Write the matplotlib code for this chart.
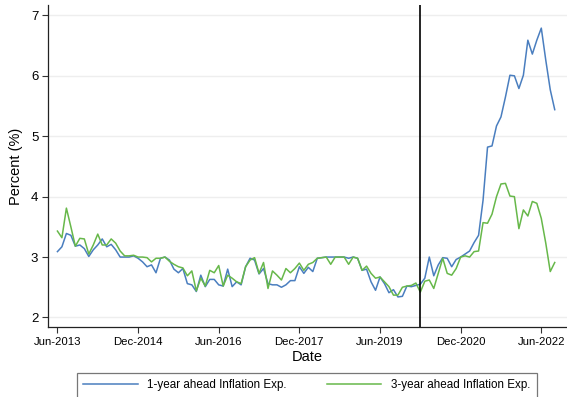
import matplotlib
matplotlib.use("Agg")
import matplotlib.pyplot as plt
import pandas as pd

plt.rcParams['font.family'] = ['Liberation Sans', 'DejaVu Sans']

# Monthly survey expectations, Jun-2013 onwards (percent)
one_year = [
    3.09, 3.17, 3.39, 3.36, 3.18, 3.20, 3.14, 3.01, 3.12, 3.20, 3.30, 3.17,
    3.21, 3.12, 3.00, 3.00, 3.00, 3.02, 2.98, 2.92, 2.84, 2.87, 2.74, 2.98,
    3.00, 2.95, 2.80, 2.74, 2.81, 2.56, 2.54, 2.43, 2.70, 2.51, 2.63, 2.63,
    2.54, 2.52, 2.80, 2.51, 2.59, 2.54, 2.84, 2.98, 2.95, 2.72, 2.81, 2.56,
    2.54, 2.54, 2.50, 2.54, 2.61, 2.61, 2.84, 2.73, 2.83, 2.76, 2.98, 2.99,
    3.00, 3.00, 3.00, 3.00, 3.00, 2.98, 3.00, 2.98, 2.78, 2.80, 2.59, 2.45,
    2.67, 2.56, 2.41, 2.46, 2.34, 2.35, 2.52, 2.51, 2.53, 2.55, 2.65, 3.00,
    2.69, 2.87, 2.99, 2.98, 2.84, 2.96, 3.00, 3.05, 3.10, 3.24, 3.36, 3.94,
    4.82, 4.84, 5.17, 5.32, 5.65, 6.01, 6.00, 5.79, 6.01, 6.59, 6.36, 6.59,
    6.79, 6.26, 5.77, 5.44,
]
three_year = [
    3.43, 3.32, 3.81, 3.50, 3.18, 3.31, 3.30, 3.05, 3.20, 3.38, 3.20, 3.20,
    3.30, 3.23, 3.10, 3.02, 3.02, 3.03, 3.00, 3.00, 2.99, 2.92, 2.98, 2.98,
    3.00, 2.93, 2.88, 2.84, 2.82, 2.69, 2.77, 2.44, 2.65, 2.52, 2.78, 2.74,
    2.86, 2.52, 2.70, 2.65, 2.59, 2.56, 2.84, 2.95, 2.99, 2.73, 2.91, 2.48,
    2.77, 2.70, 2.62, 2.81, 2.74, 2.81, 2.90, 2.78, 2.88, 2.91, 2.98, 2.99,
    3.00, 2.88, 3.00, 3.00, 3.00, 2.88, 3.00, 2.98, 2.78, 2.85, 2.73, 2.65,
    2.67, 2.59, 2.51, 2.37, 2.37, 2.50, 2.52, 2.53, 2.57, 2.42, 2.60, 2.62,
    2.48, 2.73, 2.98, 2.73, 2.70, 2.81, 3.00, 3.02, 3.00, 3.09, 3.10, 3.57,
    3.56, 3.71, 4.00, 4.21, 4.22, 4.01, 4.00, 3.47, 3.78, 3.68, 3.92, 3.89,
    3.64, 3.23, 2.76, 2.91,
]
start_month = "2013-06"
event_month = "2020-03"
tick_step = 18
y_ticks = [2, 3, 4, 5, 6, 7]
series_labels = ["1-year ahead Inflation Exp.", "3-year ahead Inflation Exp."]

months = pd.period_range(start_month, periods=len(one_year), freq="M")
x = list(range(len(months)))
event_x = (pd.Period(event_month, freq="M") - months[0]).n

fig = plt.figure(figsize=(5.67, 3.97), dpi=100)
ax = fig.add_axes([0.0847, 0.176, 0.915, 0.811])

for yv in y_ticks:
    ax.axhline(yv, color="#eeeeee", lw=1.0, zorder=0)

l1, = ax.plot(x, one_year, color="#4a7ebf", lw=1.1, label=series_labels[0])
l2, = ax.plot(x, three_year, color="#67b84a", lw=1.1, label=series_labels[1])
ax.axvline(event_x, color="black", lw=1.2)

ax.set_xlim(-2.1, 113.7)
ax.set_ylim(1.84, 7.17)

tick_pos = x[::tick_step]
ax.set_xticks(tick_pos)
ax.set_xticklabels([months[i].strftime("%b-%Y") for i in tick_pos], fontsize=8.2)
ax.set_yticks(y_ticks)
ax.set_yticklabels([str(v) for v in y_ticks], fontsize=9.5)
ax.tick_params(axis="both", direction="out", length=4, width=0.8, color="#333333")
ax.tick_params(axis="x", pad=3)
ax.tick_params(axis="y", pad=3)

for side in ["top", "right"]:
    ax.spines[side].set_visible(False)
for side in ["left", "bottom"]:
    ax.spines[side].set_color("#222222")
    ax.spines[side].set_linewidth(0.9)

ax.set_xlabel("Date", fontsize=10.5, labelpad=2)
ax.set_ylabel("Percent (%)", fontsize=10.5, labelpad=6)

leg = fig.legend(handles=[l1, l2], loc="upper center",
                 bbox_to_anchor=(0.541, 1 - 373 / 397), ncol=2,
                 fontsize=8.4, frameon=True, fancybox=False,
                 handlelength=4.7, handletextpad=0.8, columnspacing=3.4,
                 borderpad=0.55, borderaxespad=0)
leg.get_frame().set_edgecolor("#555555")
leg.get_frame().set_linewidth(0.9)

fig.savefig("out.png", dpi=100)
